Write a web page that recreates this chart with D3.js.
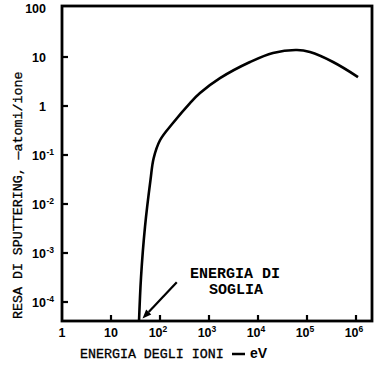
<!DOCTYPE html>
<html><head><meta charset="utf-8">
<script src="https://cdn.jsdelivr.net/npm/d3@7"></script>
<style>
html,body{margin:0;padding:0;background:#fff;}
svg{display:block;}
</style></head>
<body>
<script>
// Data: ion energy (eV) vs sputtering yield (atoms/ion)
const energy = [37.3, 41, 49.4, 64, 74, 100, 184, 410, 655, 1676, 6870, 20200, 62500, 115000, 340000, 1100000];
const yieldVals = [4e-5, 3.2e-4, 3.4e-3, 0.031, 0.085, 0.20, 0.45, 1.15, 1.84, 3.7, 7.9, 12.1, 13.9, 12.6, 7.9, 3.9];
const xTicks = [1, 10, 100, 1000, 10000, 100000, 1000000];
const xTickBase = ["1", "10", "10", "10", "10", "10", "10"];
const xTickExp = ["", "", "2", "3", "4", "5", "6"];
const yTicks = [100, 10, 1, 0.1, 0.01, 0.001, 0.0001];
const yTickBase = ["100", "10", "1", "10", "10", "10", "10"];
const yTickExp = ["", "", "", "-1", "-2", "-3", "-4"];
const yTitle = "RESA DI SPUTTERING, \u2014atomi/ione";
const xTitle = "ENERGIA DEGLI IONI";
const xUnit = "eV";
const annot = ["ENERGIA DI", "SOGLIA"];
const arrowFrom = [900, 3.2e-4];  // energy, yield
const arrowTo = [44, 4.6e-5];

const W = 386, H = 368;
const frame = {l: 62, r: 372, t: 6, b: 321};
const svg = d3.select("body").append("svg").attr("width", W).attr("height", H);

const x = d3.scaleLog().domain([1, 1e6]).range([62, 356]);
const y = d3.scaleLog().domain([1e-4, 100]).range([302, 8]);

const numFont = "'Liberation Sans', Arial, sans-serif";
const monoFont = "'Liberation Mono', 'Courier New', monospace";

// clip
svg.append("clipPath").attr("id", "clip").append("rect")
  .attr("x", frame.l).attr("y", frame.t).attr("width", frame.r - frame.l).attr("height", frame.b - frame.t);

// curve
const line = d3.line().x((d, i) => x(energy[i])).y((d, i) => y(yieldVals[i])).curve(d3.curveCatmullRom.alpha(0.5));
svg.append("path").datum(energy).attr("d", line).attr("clip-path", "url(#clip)")
  .attr("fill", "none").attr("stroke", "#000").attr("stroke-width", 2.6).attr("stroke-linejoin", "round");

// ticks (inward)
svg.append("g").selectAll("line").data(yTicks.slice(1)).join("line")
  .attr("x1", frame.l).attr("x2", frame.l + 6).attr("y1", d => y(d)).attr("y2", d => y(d))
  .attr("stroke", "#000").attr("stroke-width", 2.2);
svg.append("g").selectAll("line").data(xTicks.slice(1)).join("line")
  .attr("x1", d => x(d)).attr("x2", d => x(d)).attr("y1", frame.b).attr("y2", frame.b - 6)
  .attr("stroke", "#000").attr("stroke-width", 2.2);

// frame
svg.append("rect").attr("x", frame.l).attr("y", frame.t).attr("width", frame.r - frame.l).attr("height", frame.b - frame.t)
  .attr("fill", "none").attr("stroke", "#000").attr("stroke-width", 2.8);

// y tick labels
yTicks.forEach((v, i) => {
  const yy = y(v) + 4.5;
  svg.append("text").attr("x", 46).attr("y", yy).attr("text-anchor", "end")
    .attr("font-family", numFont).attr("font-weight", "bold").attr("font-size", 12.5).text(yTickBase[i]);
  if (yTickExp[i]) {
    svg.append("text").attr("x", 46.5).attr("y", yy - 5).attr("text-anchor", "start")
      .attr("font-family", numFont).attr("font-weight", "bold").attr("font-size", 8.5).text(yTickExp[i]);
  }
});
// x tick labels
xTicks.forEach((v, i) => {
  const t = svg.append("text").attr("x", x(v) + (xTickExp[i] ? -2 : 0)).attr("y", 337).attr("text-anchor", "middle")
    .attr("font-family", numFont).attr("font-weight", "bold").attr("font-size", 12.5);
  t.append("tspan").text(xTickBase[i]);
  if (xTickExp[i]) t.append("tspan").attr("dy", -5).attr("font-size", 8.5).text(xTickExp[i]);
});

// axis titles
svg.append("text").attr("transform", "translate(22,319) rotate(-90)")
  .attr("font-family", monoFont).attr("font-size", 13.3).attr("fill", "#000")
  .attr("stroke", "#000").attr("stroke-width", 0.3).text(yTitle);
svg.append("text").attr("x", 80).attr("y", 358)
  .attr("font-family", monoFont).attr("font-size", 13.3).attr("fill", "#000")
  .attr("stroke", "#000").attr("stroke-width", 0.3).text(xTitle);
svg.append("line").attr("x1", 232).attr("x2", 245).attr("y1", 354).attr("y2", 354)
  .attr("stroke", "#000").attr("stroke-width", 2.5);
svg.append("text").attr("x", 250).attr("y", 358)
  .attr("font-family", numFont).attr("font-weight", "bold").attr("font-size", 14).text(xUnit);

// annotation
svg.append("text").attr("x", 235).attr("y", 278).attr("text-anchor", "middle")
  .attr("font-family", monoFont).attr("font-weight", "bold").attr("font-size", 15).text(annot[0]);
svg.append("text").attr("x", 236).attr("y", 294).attr("text-anchor", "middle")
  .attr("font-family", monoFont).attr("font-weight", "bold").attr("font-size", 15).text(annot[1]);

// arrow
const ax1 = x(arrowFrom[0]) - 30, ay1 = y(arrowFrom[1]) + 5;
const ax2 = x(arrowTo[0]), ay2 = y(arrowTo[1]);
const ang = Math.atan2(ay2 - ay1, ax2 - ax1);
const hl = 9, hw = 3.5;
const bx = ax2 - hl * Math.cos(ang), by = ay2 - hl * Math.sin(ang);
svg.append("line").attr("x1", ax1).attr("y1", ay1).attr("x2", bx).attr("y2", by)
  .attr("stroke", "#000").attr("stroke-width", 2.2);
svg.append("path").attr("d", d3.line()([
  [ax2, ay2],
  [bx + hw * Math.sin(ang), by - hw * Math.cos(ang)],
  [bx - hw * Math.sin(ang), by + hw * Math.cos(ang)]
]) + "Z").attr("fill", "#000");
</script>
</body></html>
